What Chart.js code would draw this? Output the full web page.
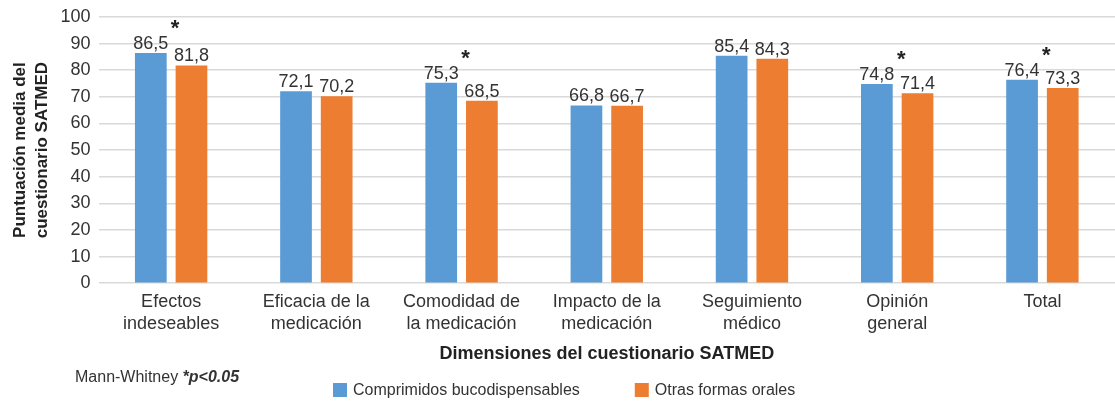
<!DOCTYPE html>
<html>
<head>
<meta charset="utf-8">
<script src="https://cdn.jsdelivr.net/npm/chart.js@4"></script>
<style>
  html, body { margin: 0; padding: 0; background: #fff; }
  #wrap { width: 1115px; height: 405px; }
</style>
</head>
<body>
<div id="wrap"><canvas id="myChart"></canvas></div>
<script>
const categories = [
  ['Efectos', 'indeseables'],
  ['Eficacia de la', 'medicación'],
  ['Comodidad de', 'la medicación'],
  ['Impacto de la', 'medicación'],
  ['Seguimiento', 'médico'],
  ['Opinión', 'general'],
  ['Total']
]
const bucodispensables = [86.5, 72.1, 75.3, 66.8, 85.4, 74.8, 76.4]
const otrasFormas = [81.8, 70.2, 68.5, 66.7, 84.3, 71.4, 73.3]
const significant = [true, false, true, false, false, true, true]
const yTicks = [0, 10, 20, 30, 40, 50, 60, 70, 80, 90, 100]

const FONT = "'Liberation Sans', Arial, sans-serif"

// value labels, asterisks, footnote and legend
const extras = {
  id: 'extras',
  afterDatasetsDraw(chart) {
    const ctx = chart.ctx
    ctx.save()
    ctx.font = '18px ' + FONT
    ctx.fillStyle = '#333'
    ctx.textAlign = 'center'
    ctx.textBaseline = 'alphabetic'
    chart.data.datasets.forEach((ds, i) => {
      chart.getDatasetMeta(i).data.forEach((bar, j) => {
        ctx.fillText(ds.data[j].toFixed(1).replace('.', ','), bar.x, bar.y - 4)
      })
    })
    ctx.font = 'bold 22px ' + FONT
    ctx.fillStyle = '#222'
    ctx.textBaseline = 'middle'
    const yScale = chart.scales.y
    const xScale = chart.scales.x
    significant.forEach((s, j) => {
      if (!s) return
      const top = yScale.getPixelForValue(Math.max(bucodispensables[j], otrasFormas[j]))
      ctx.fillText('*', xScale.getPixelForValue(j) + 4, top - 24)
    })

    ctx.textAlign = 'left'
    ctx.font = '16px ' + FONT
    ctx.fillStyle = '#333'
    ctx.fillText('Mann-Whitney ', 75, 378)
    const w = ctx.measureText('Mann-Whitney ').width
    ctx.font = 'italic bold 16px ' + FONT
    ctx.fillText('*p<0.05', 75 + w, 378)

    // legend
    ctx.font = '16px ' + FONT
    let x = 333
    chart.data.datasets.forEach(ds => {
      ctx.fillStyle = ds.backgroundColor
      ctx.fillRect(x, 383, 14, 14)
      ctx.fillStyle = '#333'
      ctx.fillText(ds.label, x + 20, 391)
      x += 20 + ctx.measureText(ds.label).width + 55
    })
    ctx.restore()
  }
}

new Chart(document.getElementById('myChart'), {
  type: 'bar',
  data: {
    labels: categories,
    datasets: [
      { label: 'Comprimidos bucodispensables', data: bucodispensables, backgroundColor: '#5b9bd5' },
      { label: 'Otras formas orales', data: otrasFormas, backgroundColor: '#ed7d31' }
    ]
  },
  options: {
    responsive: true,
    maintainAspectRatio: false,
    animation: false,
    layout: { padding: { top: 7, right: 0, left: 10, bottom: 38 } },
    datasets: { bar: { categoryPercentage: 0.56, barPercentage: 0.78 } },
    scales: {
      x: {
        grid: { display: false },
        border: { display: false },
        ticks: { font: { family: FONT, size: 18 }, color: '#333', padding: 0 },
        title: {
          display: true,
          text: 'Dimensiones del cuestionario SATMED',
          font: { family: FONT, size: 18, weight: 'bold' },
          color: '#222',
          padding: { top: 9, bottom: 2 }
        }
      },
      y: {
        min: 0,
        max: 100,
        afterBuildTicks(axis) { axis.ticks = yTicks.map(v => ({ value: v })) },
        grid: { color: '#d9d9d9', lineWidth: 1.5, drawTicks: false },
        border: { display: false },
        ticks: { font: { family: FONT, size: 18, lineHeight: 1.0 }, color: '#333', padding: 8 },
        title: {
          display: true,
          text: ['Puntuación media del', 'cuestionario SATMED'],
          font: { family: FONT, size: 17, weight: 'bold', lineHeight: 1.25 },
          color: '#222',
          padding: { top: 0, bottom: 0 }
        }
      }
    },
    plugins: {
      legend: { display: false },
      tooltip: { enabled: false }
    }
  },
  plugins: [extras]
})
</script>
</body>
</html>
